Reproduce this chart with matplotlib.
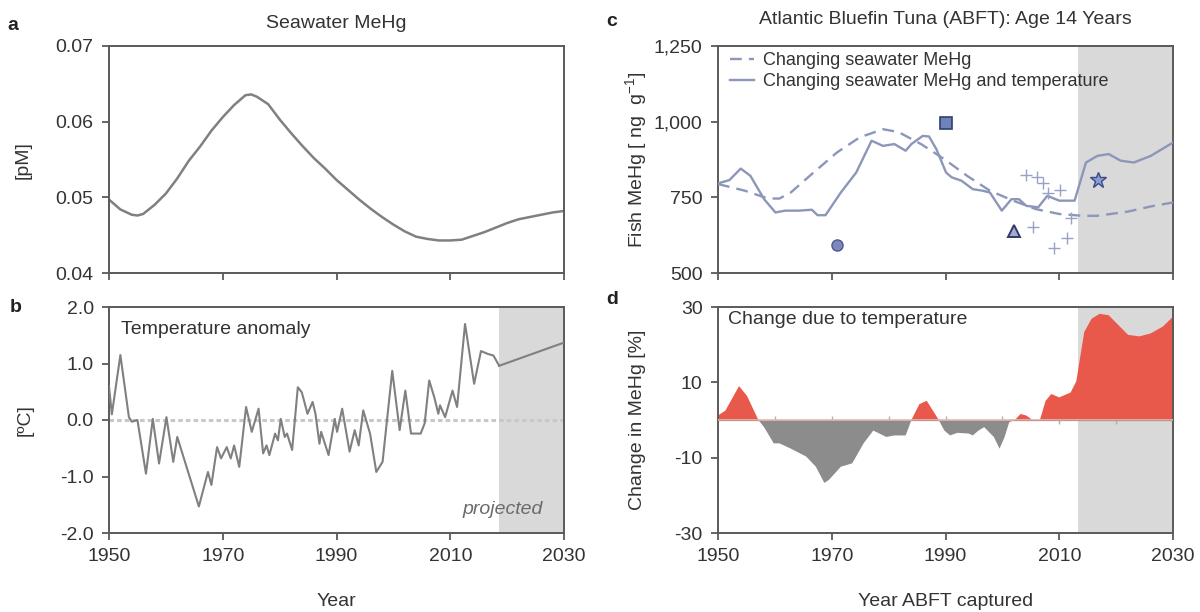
import numpy as np
import matplotlib
matplotlib.use("Agg")
import matplotlib.pyplot as plt
from matplotlib.ticker import FuncFormatter

plt.rcParams['font.family'] = ['Liberation Sans', 'DejaVu Sans']
plt.rcParams['mathtext.fontset'] = 'custom'
plt.rcParams['mathtext.rm'] = 'Liberation Sans'
plt.rcParams['mathtext.it'] = 'Liberation Sans:italic'
plt.rcParams['axes.unicode_minus'] = False

# ---------------- data ----------------
# Panel a: seawater MeHg [pM]
sw_years = [1950, 1952, 1954, 1955, 1956, 1958, 1960, 1962, 1964, 1966, 1968, 1970, 1972,
            1974, 1975, 1976, 1978, 1980, 1982, 1984, 1986, 1988, 1990, 1992, 1994, 1996,
            1998, 2000, 2002, 2004, 2006, 2008, 2010, 2012, 2014, 2016, 2018, 2020, 2022,
            2024, 2026, 2028, 2030]
sw_mehg = [0.0497, 0.0484, 0.0477, 0.0476, 0.0478, 0.0490, 0.0505, 0.0525, 0.0548, 0.0567,
           0.0588, 0.0606, 0.0622, 0.0635, 0.0636, 0.0633, 0.0623, 0.0603, 0.0585, 0.0568,
           0.0552, 0.0538, 0.0523, 0.0510, 0.0497, 0.0485, 0.0474, 0.0464, 0.0455, 0.0448,
           0.0445, 0.0443, 0.0443, 0.0444, 0.0449, 0.0454, 0.0460, 0.0466, 0.0471, 0.0474,
           0.0477, 0.0480, 0.0482]

# Panel b: temperature anomaly [degC]
t_years = [1950, 1950.5, 1952, 1953.5, 1954, 1955, 1956.5, 1957.7, 1958.8, 1960.1, 1961.3,
           1962, 1965.8, 1967.4, 1968, 1969, 1969.7, 1970.7, 1971.4, 1972, 1972.9, 1974.1,
           1975.1, 1976.3, 1977.1, 1977.7, 1978.2, 1979.2, 1979.7, 1980.2, 1980.9, 1981.3,
           1982.2, 1983.2, 1983.9, 1984.9, 1985.8, 1986.3, 1987, 1987.3, 1988.6, 1989.7,
           1990.1, 1991, 1992.3, 1993.2, 1993.9, 1994.7, 1995.9, 1997, 1998.1, 1999.8,
           2001.1, 2002.1, 2003.1, 2004.8, 2005.5, 2006.3, 2007.2, 2007.9, 2008.2, 2009.1,
           2010.4, 2011.2, 2012.6, 2014.2, 2015.4, 2016.6, 2017.6, 2018.6]
t_anom = [0.6, 0.1, 1.15, 0.05, -0.03, 0.0, -0.95, 0.02, -0.77, 0.05, -0.74, -0.3, -1.53,
          -0.92, -1.15, -0.48, -0.68, -0.48, -0.68, -0.45, -0.83, 0.23, -0.21, 0.2, -0.59,
          -0.45, -0.62, -0.24, -0.36, 0.02, -0.3, -0.24, -0.53, 0.58, 0.49, 0.11, 0.32, 0.11,
          -0.42, -0.21, -0.62, 0.02, -0.21, 0.2, -0.56, -0.18, -0.45, 0.17, -0.24, -0.92,
          -0.74, 0.87, -0.18, 0.52, -0.24, -0.24, -0.06, 0.7, 0.4, 0.11, 0.26, 0.05, 0.52,
          0.23, 1.7, 0.64, 1.22, 1.17, 1.14, 0.96]
t_proj_years = [2018.6, 2030]
t_proj = [0.96, 1.37]

# Panel c: ABFT fish MeHg [ng g-1]
c_years_dash = [1950, 1954.7, 1958.8, 1960.8, 1962.8, 1966.8, 1970.9, 1974.9, 1979, 1981.7,
                1985.7, 1989.8, 1993.8, 1997.8, 2001.9, 2005.9, 2010, 2014, 2016.7, 2022.1,
                2026.1, 2030]
c_mehg_sw = [794, 772, 746, 746, 766, 832, 898, 948, 975, 966, 926, 876, 821, 772, 739, 711,
             695, 689, 689, 703, 720, 733]
c_years_solid = [1950, 1952, 1954, 1955.7, 1958.1, 1960.1, 1961.8, 1964.2, 1966.5, 1967.5,
                 1968.9, 1971.6, 1974.3, 1977, 1979, 1981, 1983, 1984, 1986, 1987.1, 1988.4,
                 1990.1, 1991.1, 1992.8, 1994.8, 1996.5, 1997.8, 1999.9, 2001.6, 2002.9,
                 2004.2, 2006.3, 2007.9, 2010, 2011.3, 2012.7, 2014.7, 2016.7, 2018.7,
                 2020.8, 2023.1, 2026.1, 2030]
c_mehg_swt = [796, 807, 845, 821, 744, 700, 706, 706, 709, 691, 691, 766, 832, 937, 920, 926,
              904, 926, 953, 951, 909, 832, 816, 805, 777, 772, 766, 706, 744, 744, 722, 717,
              755, 739, 739, 739, 865, 887, 893, 871, 865, 887, 931]
obs_circle = (1970.9, 592)
obs_square = (1990.1, 997)
obs_triangle = (2002.1, 640)
obs_star = (2016.8, 807)
obs_plus_years = [2004.1, 2006.0, 2007.2, 2008.1, 2010.1, 2005.3, 2009.1, 2011.3, 2012.0]
obs_plus_mehg = [824, 818, 796, 763, 774, 651, 582, 615, 681]

# Panel d: change in MeHg due to temperature [%]
d_years = [1950, 1951.3, 1953.7, 1955.1, 1957.1, 1958.1, 1959.8, 1960.8, 1962.8, 1965.5,
           1967.2, 1968.7, 1969.5, 1971.6, 1973.6, 1975.6, 1977.3, 1979.6, 1981, 1983, 1984,
           1985.4, 1986.7, 1988.7, 1989.8, 1990.8, 1992.1, 1994.1, 1994.8, 1995.8, 1996.8,
           1998.5, 1999.5, 2000.4, 2001.2, 2002.2, 2003.2, 2004.2, 2005.3, 2006.6, 2007.6,
           2008.6, 2010, 2012, 2013, 2014.4, 2015.7, 2017.1, 2018.7, 2020.4, 2022.1, 2024.1,
           2026.1, 2028.2, 2030]
d_change = [1.2, 2.5, 9.0, 6.4, 0.0, -1.9, -6.2, -6.2, -7.6, -9.7, -12.4, -16.7, -15.9,
            -12.4, -11.5, -6.2, -2.8, -4.5, -4.1, -4.1, 0.0, 4.2, 5.1, 0.3, -2.8, -4.1, -3.4,
            -3.6, -4.1, -2.8, -1.9, -4.5, -7.6, -4.5, -0.6, 0.0, 1.6, 1.2, 0.0, 0.0, 5.1, 6.9,
            6.0, 7.3, 10.3, 23.4, 26.9, 28.2, 27.8, 25.2, 22.6, 22.2, 23.0, 24.8, 27.4]

proj_start_b = 2018.5
proj_start_cd = 2013.3
x_ticks = [1950, 1970, 1990, 2010, 2030]

# ---------------- layout ----------------
W, H = 1200, 612
fig = plt.figure(figsize=(12, 6.12), dpi=100)


def axes_px(x0, y0, x1, y1):
    return fig.add_axes([x0 / W, 1 - y1 / H, (x1 - x0) / W, (y1 - y0) / H])


ax_a = axes_px(109, 46, 564, 273)
ax_b = axes_px(109, 307, 564, 533)
ax_c = axes_px(718, 46, 1173, 273)
ax_d = axes_px(718, 307, 1173, 533)

spine_col = '#5a5a5a'
txt_col = '#333333'
fs = 14

for ax in (ax_a, ax_b, ax_c, ax_d):
    ax.set_xlim(1950, 2030)
    ax.set_xticks(x_ticks)
    for s in ax.spines.values():
        s.set_color(spine_col)
        s.set_linewidth(1.4)
    ax.tick_params(direction='out', length=5, width=1.3, color=spine_col,
                   labelsize=fs, labelcolor=txt_col, pad=6)

for ax in (ax_a, ax_c):
    ax.tick_params(axis='x', labelbottom=False)

# Panel a
ax_a.plot(sw_years, sw_mehg, color='#808080', lw=1.8)
ax_a.set_ylim(0.04, 0.07)
ax_a.set_yticks([0.04, 0.05, 0.06, 0.07])
ax_a.yaxis.set_major_formatter(FuncFormatter(lambda v, p: f"{v:.2f}"))
ax_a.set_title('Seawater MeHg', fontsize=fs, color=txt_col, pad=13)

# Panel b
ax_b.axvspan(proj_start_b, 2030, color='#d9d9d9', lw=0, zorder=0)
ax_b.axhline(0, color='#c8c8c8', lw=2.2, ls=(0, (1.5, 1.0)), zorder=1)
ax_b.plot(t_years, t_anom, color='#808080', lw=1.5, zorder=3)
ax_b.plot(t_proj_years, t_proj, color='#808080', lw=1.5, zorder=3)
ax_b.set_ylim(-2.0, 2.0)
ax_b.set_yticks([-2.0, -1.0, 0.0, 1.0, 2.0])
ax_b.yaxis.set_major_formatter(FuncFormatter(lambda v, p: f"{v:.1f}"))
ax_b.text(12 / 455, 1 - 22 / 226, 'Temperature anomaly', transform=ax_b.transAxes,
          fontsize=fs, color=txt_col, va='center', ha='left')
ax_b.text(1 - 21 / 455, 23 / 226, 'projected', transform=ax_b.transAxes, fontsize=fs,
          color='#6a6a6a', style='italic', ha='right', va='center')
ax_b.set_xlabel('Year', fontsize=fs, color=txt_col, labelpad=20)

# Panel c
blue = '#8c96b9'
ax_c.axvspan(proj_start_cd, 2030, color='#d9d9d9', lw=0, zorder=0)
ax_c.plot(c_years_dash, c_mehg_sw, color=blue, lw=1.7, ls=(0, (5, 3)),
          label='Changing seawater MeHg', zorder=3)
ax_c.plot(c_years_solid, c_mehg_swt, color=blue, lw=1.7,
          label='Changing seawater MeHg and temperature', zorder=3)
ax_c.plot(obs_plus_years, obs_plus_mehg, ls='none', marker='+', ms=9, mew=1.0,
          color='#9aa2c4', zorder=4)
ax_c.plot(*obs_circle, marker='o', ms=8, mfc='#7d87bb', mec='#4d5890', mew=1, zorder=5)
ax_c.plot(*obs_square, marker='s', ms=8, mfc='#6f83b8', mec='#2f3f70', mew=1.2, zorder=5)
ax_c.plot(*obs_triangle, marker='^', ms=8, mfc='#a3add3', mec='#2f3a6a', mew=1.4, zorder=5)
ax_c.plot(*obs_star, marker='*', ms=12, mfc='#8d9bd0', mec='#3a4a8a', mew=1, zorder=5)
ax_c.set_ylim(500, 1250)
ax_c.set_yticks([500, 750, 1000, 1250])
ax_c.yaxis.set_major_formatter(FuncFormatter(lambda v, p: f"{int(v):,}"))
ax_c.set_title('Atlantic Bluefin Tuna (ABFT): Age 14 Years', fontsize=fs, color=txt_col,
               pad=16)
leg = ax_c.legend(loc='upper left', bbox_to_anchor=(12 / 455, 1 - 6 / 227), frameon=False,
                  fontsize=13, handlelength=1.35, handletextpad=0.45, labelspacing=0.22,
                  borderaxespad=0, borderpad=0)
for t in leg.get_texts():
    t.set_color(txt_col)

# Panel d
red = '#e8584b'
ax_d.axvspan(proj_start_cd, 2030, color='#d9d9d9', lw=0, zorder=0)
dy = np.array(d_years)
dc = np.array(d_change)
ax_d.fill_between(dy, 0, dc, where=dc >= 0, interpolate=True, color=red, lw=0, zorder=2)
ax_d.fill_between(dy, 0, dc, where=dc <= 0, interpolate=True, color='#8c8c8c', lw=0, zorder=2)
ax_d.axhline(0, color='#e9b7ae', lw=1.2, zorder=3)
sec = ax_d.secondary_xaxis(0.5)
sec.set_xticks([1960, 1970, 1980, 1990, 2000, 2010, 2020])
sec.tick_params(direction='inout', length=6, width=1, color='#b0b0b0', labelbottom=False,
                labeltop=False)
sec.spines['bottom'].set_visible(False)
ax_d.set_ylim(-30, 30)
ax_d.set_yticks([-30, -10, 10, 30])
ax_d.text(10 / 455, 1 - 12 / 226, 'Change due to temperature', transform=ax_d.transAxes,
          fontsize=fs, color=txt_col, va='center', ha='left')
ax_d.set_xlabel('Year ABFT captured', fontsize=fs, color=txt_col, labelpad=20)

# y labels
fig.text(23 / W, 1 - 160 / H, '[pM]', rotation=90, ha='center', va='center', fontsize=fs,
         color=txt_col)
fig.text(25 / W, 1 - 420 / H, '[ºC]', rotation=90, ha='center', va='center', fontsize=fs,
         color=txt_col)
fig.text(636 / W, 1 - 160 / H, 'Fish MeHg [ ng  g$^{-1}$]', rotation=90, ha='center',
         va='center', fontsize=fs, color=txt_col)
fig.text(638 / W, 1 - 420 / H, 'Change in MeHg [%]', rotation=90, ha='center', va='center',
         fontsize=fs, color=txt_col)

# panel letters
for lbl, x, y in [('a', 13, 25), ('b', 16, 307), ('c', 612, 22), ('d', 612, 300)]:
    fig.text(x / W, 1 - y / H, lbl, fontsize=fs, fontweight='bold', color='#222222',
             ha='center', va='center')

fig.savefig('out.png', dpi=100)
